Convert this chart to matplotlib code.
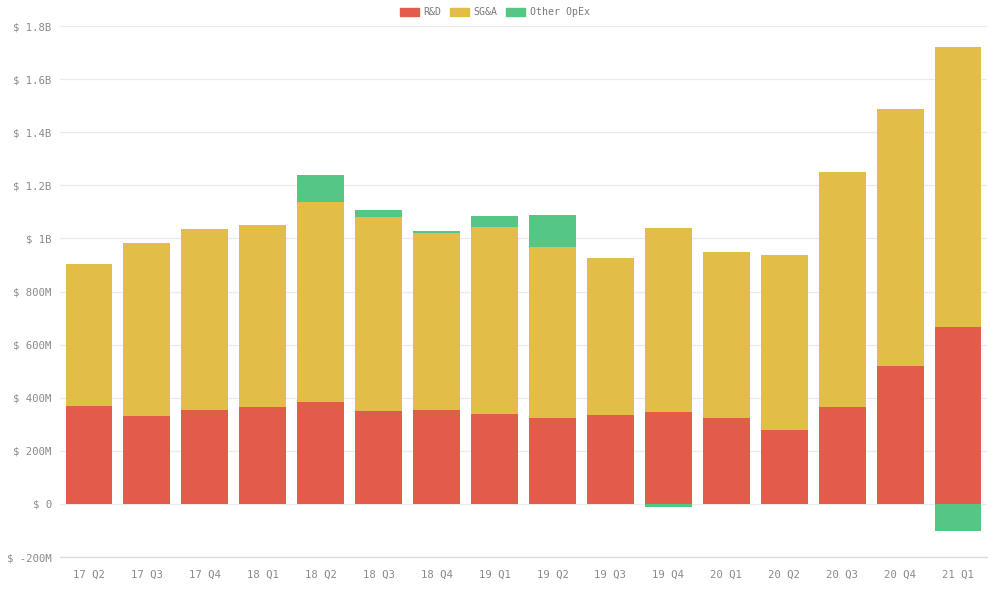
import matplotlib
matplotlib.use("Agg")
import matplotlib.pyplot as plt
from matplotlib.patches import Patch
from matplotlib.ticker import FuncFormatter
import numpy as np

quarters = ["17 Q2", "17 Q3", "17 Q4", "18 Q1", "18 Q2", "18 Q3", "18 Q4", "19 Q1",
            "19 Q2", "19 Q3", "19 Q4", "20 Q1", "20 Q2", "20 Q3", "20 Q4", "21 Q1"]
rnd = [0.369, 0.331, 0.354, 0.365, 0.384, 0.350, 0.354, 0.339,
       0.324, 0.335, 0.346, 0.324, 0.279, 0.365, 0.520, 0.666]
sga = [0.535, 0.652, 0.681, 0.685, 0.753, 0.731, 0.666, 0.704,
       0.644, 0.591, 0.693, 0.625, 0.658, 0.885, 0.967, 1.055]
other = [0.0, 0.0, 0.0, 0.0, 0.102, 0.026, 0.008, 0.041,
         0.120, 0.0, -0.011, 0.0, 0.0, 0.0, 0.0, -0.102]

c_rnd = "#e35b4b"
c_sga = "#e2bd48"
c_oth = "#55c684"
tick_color = "#8a8a8a"
font = "DejaVu Sans Mono"
fs = 7.7

fig = plt.figure(figsize=(10, 5.89), dpi=100)
ax = fig.add_axes([0.060, 0.0543, 0.927, 0.9015])

x = np.arange(len(quarters))
rnd_a = np.array(rnd)
sga_a = np.array(sga)
oth_a = np.array(other)
w = 0.81
ax.bar(x, rnd_a, width=w, color=c_rnd, zorder=3)
ax.bar(x, sga_a, width=w, bottom=rnd_a, color=c_sga, zorder=3)
oth_bottom = np.where(oth_a >= 0, rnd_a + sga_a, 0.0)
ax.bar(x, oth_a, width=w, bottom=oth_bottom, color=c_oth, zorder=3)

ax.set_xlim(-0.5, len(quarters) - 0.5)
ax.set_ylim(-0.2, 1.8)
ax.set_yticks(np.arange(-0.2, 1.81, 0.2))

def fmt(v, pos):
    v = round(v, 3)
    if abs(v) < 1e-9:
        return "$ 0"
    if abs(v) >= 1:
        s = ("%.1f" % v).rstrip("0").rstrip(".")
        return "$ %sB" % s
    return "$ %dM" % round(v * 1000)

ax.yaxis.set_major_formatter(FuncFormatter(fmt))
ax.set_xticks(x)
ax.set_xticklabels(quarters)
for lab in ax.get_xticklabels() + ax.get_yticklabels():
    lab.set_fontfamily(font)
    lab.set_fontsize(fs)
    lab.set_color(tick_color)
ax.tick_params(axis="y", length=0, pad=6)
ax.tick_params(axis="x", length=0, pad=9)

ax.grid(axis="y", color="#ebebeb", linewidth=0.9, zorder=0)
for s in ["top", "right", "left"]:
    ax.spines[s].set_visible(False)
ax.spines["bottom"].set_color("#dcdcdc")
ax.spines["bottom"].set_linewidth(0.9)

handles = [Patch(color=c_rnd, label="R&D"), Patch(color=c_sga, label="SG&A"),
           Patch(color=c_oth, label="Other OpEx")]
fig.legend(handles=handles, loc="upper center", bbox_to_anchor=(0.495, 1.0), ncol=3,
           frameon=False, prop={"family": font, "size": 7.1}, labelcolor="#7a7a7a",
           handlelength=1.85, handleheight=0.95, columnspacing=0.9, handletextpad=0.5,
           borderaxespad=0.35)

fig.savefig("out.png", dpi=100, facecolor="white")
